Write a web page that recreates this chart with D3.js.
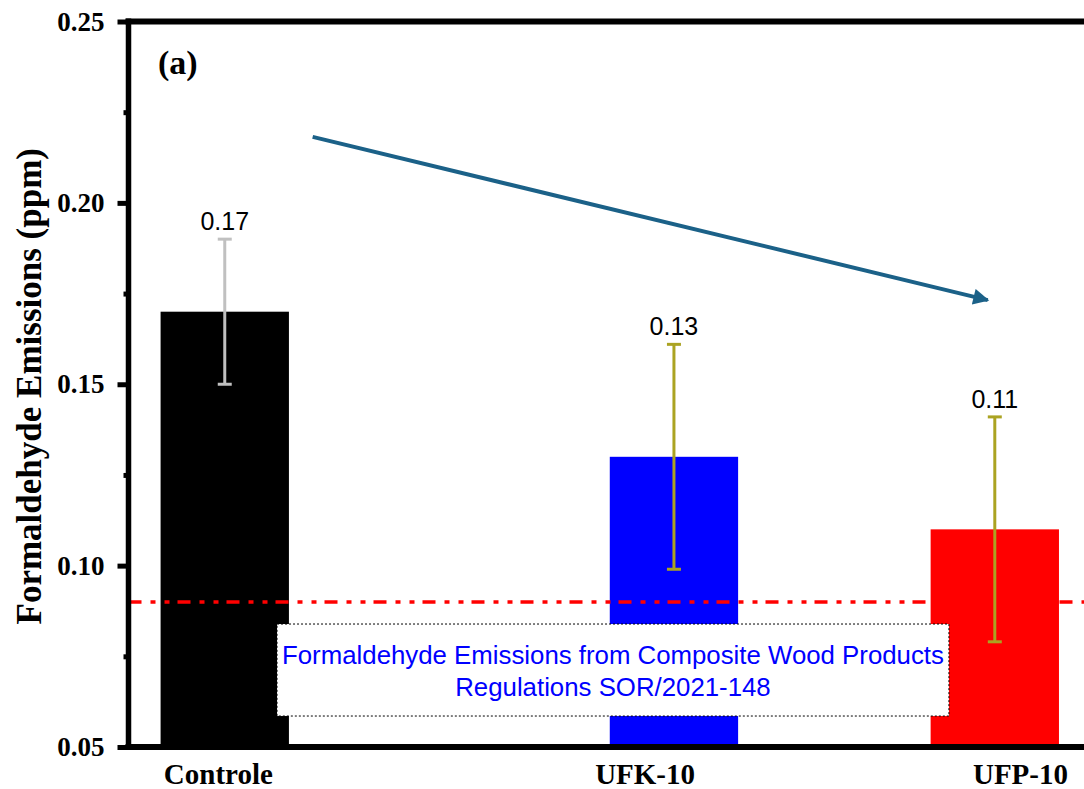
<!DOCTYPE html>
<html>
<head>
<meta charset="utf-8">
<script src="https://cdn.jsdelivr.net/npm/d3@7"></script>
<style>
  html, body { margin: 0; padding: 0; background: #fff; }
  svg { display: block; }
</style>
</head>
<body>
<svg id="chart" width="1084" height="789"></svg>
<script>
// Formaldehyde emissions per board type
const categories = ["Controle", "UFK-10", "UFP-10"];
const xIndex = [0, 1.4, 2.4];             // category position along the x axis
const labelIndex = [-0.02, 1.31, 2.48];   // where each category name sits on the x axis
const emissions = [0.17, 0.13, 0.11];      // ppm
const errors = [0.02, 0.031, 0.031];       // ppm (± error)
const barColors = ["#000000", "#0000ff", "#ff0000"];
const errColors = ["#c0c0c0", "#aba322", "#aba322"];
const yTicks = [0.05, 0.10, 0.15, 0.20, 0.25];
const yMinorTicks = [0.075, 0.125, 0.175, 0.225];
const regulationLimit = 0.09;              // ppm, SOR/2021-148
const regulationText = ["Formaldehyde Emissions from Composite Wood Products", "Regulations SOR/2021-148"];
const trendArrow = [[0.274, 0.2182], [2.378, 0.1732]];  // [xIndex, ppm]
const noteAnchor = [1.21, 0.0839];         // [xIndex, ppm] top-centre of the note box

const svg = d3.select("#chart");
const plotLeft = 128.5, plotTop = 21.5, plotBottom = 747;

const x = d3.scaleLinear().domain([-0.3, 2.7]).range([plotLeft, plotLeft + 3.0 * 320.85]);
const y = d3.scaleLinear().domain([0.05, 0.25]).range([plotBottom, plotTop]);
const barW = x(0.4) - x(0);

const serif = "'Liberation Serif', 'Times New Roman', serif";
const sans = "'Liberation Sans', Arial, sans-serif";

// bars
svg.append("g").selectAll("rect")
  .data(categories)
  .join("rect")
  .attr("x", (d, i) => x(xIndex[i]) - barW / 2)
  .attr("width", barW)
  .attr("y", (d, i) => y(emissions[i]))
  .attr("height", (d, i) => y(0.05) - y(emissions[i]))
  .attr("fill", (d, i) => barColors[i]);

// regulation limit line
svg.append("line")
  .attr("x1", plotLeft).attr("x2", x(2.7))
  .attr("y1", y(regulationLimit)).attr("y2", y(regulationLimit))
  .attr("stroke", "#ff0000")
  .attr("stroke-width", 3.5)
  .attr("stroke-dasharray", "13,9,5,9,5,8");

// note box with the regulation name
const note = svg.append("g");
const noteText = note.append("text")
  .attr("font-family", sans)
  .attr("font-size", 25.8)
  .attr("fill", "#0000ff")
  .attr("text-anchor", "middle");
noteText.selectAll("tspan")
  .data(regulationText)
  .join("tspan")
  .attr("x", x(noteAnchor[0]))
  .attr("y", (d, i) => y(noteAnchor[1]) + 40 + i * 32)
  .text(d => d);
const bb = noteText.node().getBBox();
note.insert("rect", "text")
  .attr("x", bb.x - 5)
  .attr("width", bb.width + 10)
  .attr("y", y(noteAnchor[1]))
  .attr("height", 92)
  .attr("fill", "#fff")
  .attr("stroke", "#000")
  .attr("stroke-width", 1)
  .attr("stroke-dasharray", "2,2");

// error bars
const eb = svg.append("g").selectAll("g")
  .data(categories)
  .join("g")
  .attr("stroke", (d, i) => errColors[i])
  .attr("stroke-width", 3);
eb.append("line")
  .attr("x1", (d, i) => x(xIndex[i])).attr("x2", (d, i) => x(xIndex[i]))
  .attr("y1", (d, i) => y(emissions[i] + errors[i]))
  .attr("y2", (d, i) => y(emissions[i] - errors[i]));
[1, -1].forEach(s => {
  eb.append("line")
    .attr("x1", (d, i) => x(xIndex[i]) - 7).attr("x2", (d, i) => x(xIndex[i]) + 7)
    .attr("y1", (d, i) => y(emissions[i] + s * errors[i]))
    .attr("y2", (d, i) => y(emissions[i] + s * errors[i]));
});

// value labels
svg.append("g").selectAll("text")
  .data(categories)
  .join("text")
  .attr("x", (d, i) => x(xIndex[i]))
  .attr("y", (d, i) => y(emissions[i] + errors[i]) - 9)
  .attr("text-anchor", "middle")
  .attr("font-family", sans)
  .attr("font-size", 25)
  .attr("fill", "#000")
  .text((d, i) => emissions[i].toFixed(2));

// trend arrow
svg.append("defs").append("marker")
  .attr("id", "head")
  .attr("viewBox", "0 0 10 10")
  .attr("refX", 9).attr("refY", 5)
  .attr("markerWidth", 4.4).attr("markerHeight", 4)
  .attr("markerUnits", "strokeWidth")
  .attr("orient", "auto")
  .append("path")
  .attr("d", "M0,0 L10,5 L0,10 Z")
  .attr("fill", "#1b6188");
svg.append("line")
  .attr("x1", x(trendArrow[0][0])).attr("y1", y(trendArrow[0][1]))
  .attr("x2", x(trendArrow[1][0])).attr("y2", y(trendArrow[1][1]))
  .attr("stroke", "#1b6188")
  .attr("stroke-width", 4)
  .attr("marker-end", "url(#head)");

// y axis
const yAxis = svg.append("g")
  .attr("transform", `translate(${plotLeft},0)`)
  .call(d3.axisLeft(y).tickValues(yTicks).tickFormat(d3.format(".2f")).tickSize(11).tickPadding(13));
yAxis.select(".domain").remove();
yAxis.selectAll(".tick line").attr("stroke", "#000").attr("stroke-width", 5);
yAxis.selectAll(".tick text")
  .attr("font-family", serif).attr("font-weight", "bold").attr("font-size", 27).attr("fill", "#000");
svg.append("g")
  .attr("transform", `translate(${plotLeft},0)`)
  .call(d3.axisLeft(y).tickValues(yMinorTicks).tickSize(5).tickFormat(""))
  .call(g => g.select(".domain").remove())
  .selectAll(".tick line").attr("stroke", "#000").attr("stroke-width", 5);

// frame lines
svg.append("line").attr("x1", plotLeft).attr("x2", plotLeft).attr("y1", plotTop - 3).attr("y2", plotBottom + 3)
  .attr("stroke", "#000").attr("stroke-width", 5.5);
svg.append("line").attr("x1", plotLeft - 3).attr("x2", 1084).attr("y1", plotTop).attr("y2", plotTop)
  .attr("stroke", "#000").attr("stroke-width", 6);
svg.append("line").attr("x1", plotLeft - 3).attr("x2", 1084).attr("y1", plotBottom).attr("y2", plotBottom)
  .attr("stroke", "#000").attr("stroke-width", 6);

// x category labels
svg.append("g").selectAll("text")
  .data(categories)
  .join("text")
  .attr("x", (d, i) => x(labelIndex[i]))
  .attr("y", 784)
  .attr("text-anchor", "middle")
  .attr("font-family", serif).attr("font-weight", "bold").attr("font-size", 29)
  .text(d => d);

// y axis title
svg.append("text")
  .attr("transform", `translate(41,${(plotTop + plotBottom) / 2 + 2}) rotate(-90)`)
  .attr("text-anchor", "middle")
  .attr("font-family", serif).attr("font-weight", "bold").attr("font-size", 35)
  .text("Formaldehyde Emissions (ppm)");

// panel label
svg.append("text")
  .attr("x", 158).attr("y", 74)
  .attr("font-family", serif).attr("font-weight", "bold").attr("font-size", 34)
  .text("(a)");
</script>
</body>
</html>
